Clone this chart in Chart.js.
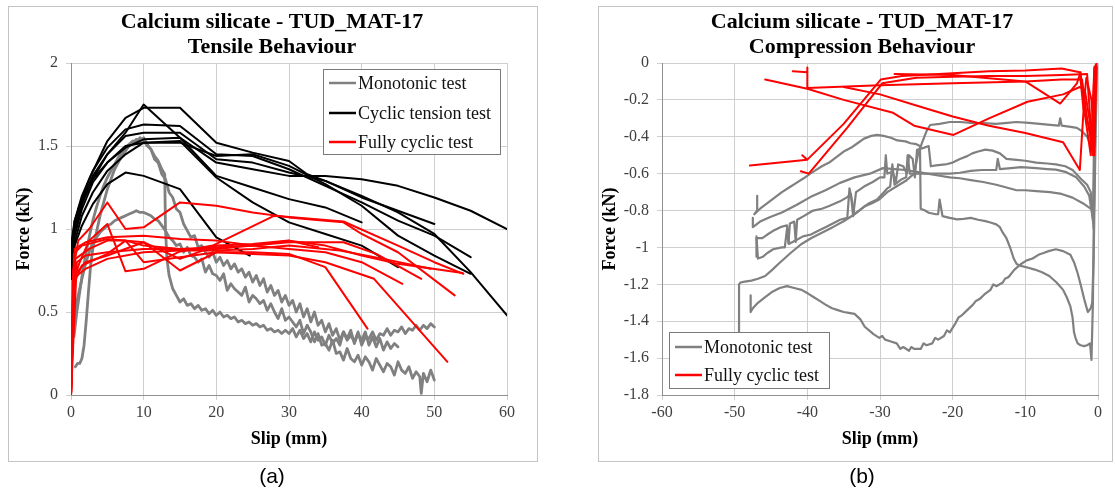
<!DOCTYPE html>
<html>
<head>
<meta charset="utf-8">
<script src="https://cdn.jsdelivr.net/npm/chart.js@4.4.1/dist/chart.umd.min.js"></script>
<style>
  html, body { margin: 0; padding: 0; background: #fff; width: 1115px; height: 489px; overflow: hidden; }
  #panelA { position: absolute; left: 0; top: 0; width: 560px; height: 489px; }
  #panelB { position: absolute; left: 560px; top: 0; width: 555px; height: 489px; }
</style>
</head>
<body>
<div id="panelA"><canvas id="tensile" width="560" height="489"></canvas></div>
<div id="panelB"><canvas id="compression" width="555" height="489"></canvas></div>
<script>
// ---------- axis ranges ----------
const tensileX = { min: 0, max: 60, step: 10 };
const tensileY = { min: 0, max: 2, step: 0.5 };
const compX = { min: -60, max: 0, step: 10 };
const compY = { min: -1.8, max: 0, step: 0.2 };

// ---------- (a) tensile behaviour: slip (mm), force (kN) ----------
const tensileMono1 = [[0.6,0.17],[0.9,0.19],[1.2,0.19],[1.5,0.22],[1.8,0.3],[2.1,0.45],[2.4,0.62],[2.7,0.78],[3,0.88],[3.5,0.98],[4,1.08],[4.5,1.16],[5,1.24],[5.5,1.3],[6,1.36],[6.5,1.4],[7,1.44],[7.5,1.47],[8,1.5],[8.5,1.52],[9,1.54],[9.5,1.53],[10,1.55],[10.5,1.51],[11,1.48],[11.5,1.44],[12,1.41],[12.5,1.36],[12.9,1.33],[13,1.0],[13.2,0.82],[13.5,0.72],[14,0.64],[14.5,0.6],[15,0.56],[15.5,0.58],[16,0.54],[16.5,0.55],[17,0.52],[17.5,0.54],[18,0.51],[18.5,0.52],[19,0.49],[19.5,0.51],[20,0.48],[20.5,0.5],[21,0.47],[21.5,0.48],[22,0.46],[22.5,0.47],[23,0.44],[23.5,0.45],[24,0.43],[24.5,0.44],[25,0.42],[25.5,0.43],[26,0.41],[26.5,0.42],[27,0.39],[27.5,0.4],[28,0.38],[28.5,0.39],[29,0.37],[29.5,0.39],[30,0.37],[30.5,0.4],[31,0.35],[31.5,0.39],[32,0.34],[32.5,0.37],[33,0.32],[33.5,0.38],[34,0.33],[34.5,0.35],[35,0.3],[35.5,0.36],[36,0.31],[36.5,0.34],[37,0.3],[37.5,0.38],[38,0.33],[38.5,0.36],[39,0.32],[39.5,0.38],[40,0.3],[40.5,0.35],[41,0.34],[41.5,0.38],[42,0.33],[42.5,0.37],[43,0.36],[43.5,0.4],[44,0.36],[44.5,0.39],[45,0.38],[45.5,0.41],[46,0.37],[46.5,0.4],[47,0.39],[47.5,0.42],[48,0.39],[48.5,0.42],[49,0.4],[49.5,0.43],[50,0.41]];
const tensileMono2 = [[0.3,0.42],[0.6,0.52],[1,0.6],[1.5,0.7],[2,0.79],[2.5,0.86],[3,0.92],[3.5,0.95],[4,0.98],[4.5,1.0],[5,1.02],[5.5,1.03],[6,1.05],[6.5,1.06],[7,1.07],[7.5,1.08],[8,1.09],[8.5,1.1],[9,1.11],[9.5,1.1],[10,1.1],[10.5,1.09],[11,1.08],[11.5,1.06],[12,1.05],[12.5,1.02],[13,0.99],[13.5,0.95],[14,0.93],[14.5,0.9],[15,0.91],[15.5,0.86],[16,0.89],[16.5,0.84],[17,0.83],[17.5,0.8],[18,0.82],[18.5,0.74],[19,0.78],[19.5,0.73],[20,0.72],[20.5,0.69],[21,0.73],[21.5,0.63],[22,0.67],[22.5,0.64],[23,0.62],[23.5,0.6],[24,0.65],[24.5,0.56],[25,0.6],[25.5,0.58],[26,0.55],[26.5,0.57],[27,0.51],[27.5,0.55],[28,0.5],[28.5,0.46],[29,0.52],[29.5,0.45],[30,0.47],[30.5,0.44],[31,0.41],[31.5,0.45],[32,0.37],[32.5,0.42],[33,0.38],[33.5,0.32],[34,0.37],[34.5,0.3],[35,0.31],[35.5,0.27],[36,0.33],[36.5,0.25],[37,0.26],[37.5,0.21],[38,0.28],[38.5,0.22],[39,0.2],[39.5,0.24],[40,0.18],[40.5,0.23],[41,0.2],[41.5,0.15],[42,0.22],[42.5,0.18],[43,0.14],[43.5,0.19],[44,0.17],[44.5,0.12],[45,0.2],[45.5,0.15],[46,0.13],[46.5,0.17],[47,0.1],[47.5,0.14],[48,0.11],[48.2,0.01],[48.5,0.13],[49,0.08],[49.5,0.15],[50,0.09]];
const tensileMono3 = [[0.4,0.35],[0.8,0.5],[1.2,0.62],[1.6,0.74],[2,0.84],[2.5,0.95],[3,1.05],[3.5,1.13],[4,1.2],[4.5,1.26],[5,1.31],[5.5,1.35],[6,1.39],[6.5,1.43],[7,1.46],[7.5,1.49],[8,1.51],[8.5,1.53],[9,1.52],[9.5,1.55],[10,1.53],[10.5,1.5],[11,1.48],[11.5,1.42],[12,1.4],[12.5,1.33],[13,1.3],[13.5,1.22],[14,1.19],[14.5,1.12],[15,1.1],[15.5,1.03],[16,0.99],[16.5,0.95],[17,0.96],[17.5,0.89],[18,0.9],[18.5,0.86],[19,0.83],[19.5,0.86],[20,0.8],[20.5,0.83],[21,0.78],[21.5,0.81],[22,0.76],[22.5,0.79],[23,0.74],[23.5,0.76],[24,0.71],[24.5,0.74],[25,0.68],[25.5,0.72],[26,0.66],[26.5,0.7],[27,0.62],[27.5,0.66],[28,0.6],[28.5,0.63],[29,0.56],[29.5,0.6],[30,0.54],[30.5,0.57],[31,0.5],[31.5,0.55],[32,0.47],[32.5,0.52],[33,0.44],[33.5,0.5],[34,0.42],[34.5,0.45],[35,0.38],[35.5,0.43],[36,0.36],[36.5,0.4],[37,0.33],[37.5,0.38],[38,0.34],[38.5,0.39],[39,0.31],[39.5,0.37],[40,0.33],[40.5,0.38],[41,0.3],[41.5,0.35],[42,0.29],[42.5,0.34],[43,0.27],[43.5,0.32],[44,0.28],[44.5,0.31],[45,0.29]];

const tensileCyclic1 = [[0,0.72],[0.4,0.95],[1,1.08],[2,1.22],[3,1.32],[5,1.45],[7.5,1.58],[10,1.75],[15,1.55],[20,1.32],[25,1.25],[30,1.18],[35,1.13],[40,1.04]];
const tensileCyclic2 = [[0,0.8],[0.5,1.0],[1,1.12],[2.5,1.3],[5,1.53],[7.5,1.67],[10,1.73],[15,1.73],[20,1.52],[25,1.46],[30,1.41],[32.5,1.33],[35,1.29],[40,1.19],[45,1.11],[50,1.03]];
const tensileCyclic3 = [[0,0.85],[0.5,1.05],[1.5,1.2],[3,1.35],[5,1.49],[7.5,1.6],[10,1.63],[15,1.62],[20,1.45],[25,1.44],[30,1.36],[35,1.26],[40,1.16],[45,1.05],[50,0.96],[55,0.83]];
const tensileCyclic4 = [[0,0.75],[0.5,0.98],[1.5,1.15],[3,1.3],[5,1.45],[7.5,1.56],[10,1.58],[15,1.58],[20,1.42],[25,1.4],[30,1.34],[35,1.29],[40,1.2],[45,1.1],[50,0.97],[55,0.74],[60,0.48]];
const tensileCyclic5 = [[0,0.9],[0.5,1.05],[1.5,1.18],[3,1.3],[5,1.4],[7.5,1.49],[10,1.54],[15,1.55],[20,1.4],[25,1.36],[30,1.32],[35,1.32],[40,1.3],[45,1.26],[50,1.19],[55,1.11],[60,1.0]];
const tensileCyclic6 = [[0,0.7],[0.5,0.92],[1.5,1.08],[3,1.22],[5,1.35],[7.5,1.45],[10,1.52],[15,1.53],[20,1.31],[25,1.16],[30,1.04],[35,0.97],[40,0.9],[45,0.77]];
const tensileCyclic7 = [[0,0.7],[0.5,0.9],[1.5,1.02],[3,1.15],[5,1.27],[7.5,1.34],[10,1.32],[15,1.24],[20,0.95],[24.6,0.84]];
const tensileCyclic8 = [[0,0.78],[0.5,0.96],[1.5,1.12],[3,1.28],[5,1.4],[7.5,1.5],[10,1.52],[15,1.52],[20,1.44],[25,1.45],[30,1.38],[35,1.27],[40,1.14],[45,0.96],[50,0.84],[55,0.73]];

const tensileFull1 = [[0,0],[0.3,0.75],[1,0.93],[2.5,1.0],[5,1.16],[7.5,1.0],[10,1.01],[15,1.16],[20,1.14],[25,1.1],[30,1.07],[35,1.05],[37.5,1.04],[40,0.97],[45,0.86],[52.8,0.6]];
const tensileFull2 = [[0,0],[0.4,0.7],[1.2,0.8],[2.5,0.93],[5,1.03],[7.5,0.745],[10,0.76],[15,0.865],[19.5,0.9],[28,1.08],[37.5,1.045],[45,0.9],[50,0.8],[54,0.73]];
const tensileFull3 = [[0,0],[0.5,0.88],[2,0.92],[5,0.95],[10,0.96],[15,0.94],[20,0.93],[25,0.9],[30,0.92],[37.5,0.92],[42,0.85],[48.2,0.7]];
const tensileFull4 = [[0,0],[0.6,0.82],[2.5,0.88],[5,0.93],[7.5,0.93],[10,0.9],[15,0.88],[20,0.88],[25,0.9],[30,0.93],[34,0.89]];
const tensileFull5 = [[0,0],[0.3,0.66],[1.5,0.78],[5,0.85],[7.5,0.93],[10,0.8],[15,0.83],[20,0.86],[25,0.86],[30,0.85],[35,0.77],[40.8,0.4]];
const tensileFull6 = [[0,0],[0.5,0.72],[2,0.8],[5,0.84],[10,0.92],[15,0.75],[20,0.86],[25,0.85],[30,0.84],[35,0.8],[41.7,0.7],[51.8,0.2]];
const tensileFull7 = [[0,0],[0.8,0.8],[2,0.84],[5,0.86],[10,0.88],[15,0.88],[20,0.89],[25,0.9],[30,0.88],[35,0.86],[40,0.8],[45.6,0.67]];
const tensileFull8 = [[0,0],[0.4,0.85],[1.5,0.9],[5,0.94],[10,0.92],[12.5,0.87],[15,0.82],[20,0.9],[25,0.91],[30,0.93],[35,0.9],[40,0.84],[45,0.79],[53.9,0.735]];
const tensileFull9 = [[0,0],[0.3,0.7],[2,0.76],[5,0.82],[10,0.86],[15,0.87],[20,0.87],[25,0.88],[30,0.9],[37,0.87],[43,0.82],[49.5,0.76]];

// ---------- (b) compression behaviour ----------
const compMono1 = [[-0.15,-0.02],[-0.4,-0.56],[-0.6,-1.06],[-0.8,-1.3],[-1.0,-1.33],[-1.4,-1.35],[-1.9,-1.28],[-2.4,-1.2],[-2.8,-1.14],[-3.3,-1.08],[-3.8,-1.04],[-4.8,-1.02],[-5.8,-1.01],[-6.8,-1.02],[-7.5,-1.03],[-8.2,-1.04],[-9,-1.06],[-9.8,-1.07],[-10.6,-1.09],[-11.5,-1.12],[-12.3,-1.16],[-12.8,-1.17],[-13.1,-1.19],[-14,-1.21],[-14.4,-1.2],[-14.8,-1.23],[-15.5,-1.25],[-16.3,-1.28],[-16.8,-1.29],[-17.2,-1.31],[-18,-1.34],[-18.8,-1.37],[-19.2,-1.38],[-19.6,-1.41],[-20.4,-1.46],[-20.8,-1.45],[-21.2,-1.48],[-22,-1.5],[-22.4,-1.49],[-22.8,-1.52],[-23.6,-1.53],[-24,-1.52],[-24.4,-1.55],[-25.3,-1.55],[-25.7,-1.54],[-26,-1.56],[-26.8,-1.54],[-27.2,-1.55],[-27.7,-1.52],[-28.5,-1.51],[-29.3,-1.5],[-29.7,-1.48],[-30.1,-1.49],[-30.9,-1.47],[-31.5,-1.45],[-32.1,-1.43],[-32.7,-1.39],[-33.5,-1.36],[-34.3,-1.355],[-35,-1.35],[-35.8,-1.34],[-36.6,-1.33],[-37.5,-1.31],[-38.3,-1.29],[-39.1,-1.27],[-39.9,-1.25],[-40.8,-1.23],[-41.8,-1.22],[-42.8,-1.21],[-43.8,-1.22],[-44.8,-1.24],[-45.8,-1.27],[-46.8,-1.3],[-47.5,-1.33],[-47.8,-1.35],[-47.8,-1.26]];
const compMono2 = [[-0.2,-0.02],[-0.5,-0.4],[-0.7,-0.47],[-1.5,-0.4],[-2.2,-0.37],[-2.9,-0.352],[-4,-0.345],[-5,-0.34],[-5.2,-0.3],[-5.4,-0.34],[-6.6,-0.335],[-8,-0.33],[-9.5,-0.325],[-11.2,-0.32],[-12.5,-0.325],[-14,-0.33],[-15.8,-0.326],[-17.5,-0.325],[-19,-0.32],[-20.4,-0.32],[-21.8,-0.33],[-23.1,-0.336],[-23.6,-0.37],[-24.2,-0.43],[-24.8,-0.5],[-25.3,-0.6],[-26.5,-0.64],[-27.7,-0.668],[-29,-0.7],[-30.1,-0.74],[-31.1,-0.76],[-32.1,-0.776],[-33.5,-0.82],[-35,-0.858],[-36.5,-0.89],[-38,-0.92],[-39.5,-0.95],[-40.9,-0.984],[-42.3,-1.03],[-43.8,-1.083],[-44.8,-1.12],[-45.8,-1.155],[-46.8,-1.17],[-47.7,-1.18],[-48.6,-1.185],[-49.2,-1.19],[-49.4,-1.2],[-49.4,-1.6]];
const compMono3 = [[-0.2,-0.02],[-0.5,-0.6],[-0.7,-1.3],[-0.9,-1.61],[-1.1,-1.52],[-1.5,-1.53],[-1.9,-1.535],[-2.4,-1.53],[-2.8,-1.52],[-3.1,-1.49],[-3.3,-1.46],[-3.5,-1.38],[-3.8,-1.32],[-4.3,-1.27],[-4.8,-1.23],[-5.7,-1.19],[-6.7,-1.155],[-7.7,-1.135],[-8.7,-1.12],[-9.6,-1.11],[-10.6,-1.1],[-11.2,-1.09],[-11.6,-1.06],[-12.1,-1.0],[-12.6,-0.95],[-13.1,-0.92],[-13.5,-0.89],[-14,-0.875],[-14.8,-0.865],[-15.5,-0.857],[-16.5,-0.85],[-17.5,-0.84],[-18.5,-0.845],[-19.4,-0.848],[-20.4,-0.84],[-21.4,-0.83],[-21.8,-0.74],[-22,-0.82],[-22.3,-0.82],[-23.3,-0.812],[-23.8,-0.8],[-24.4,-0.79],[-24.5,-0.45],[-25,-0.44],[-25.8,-0.435],[-26.5,-0.425],[-27.6,-0.42],[-28.5,-0.405],[-29.5,-0.395],[-30.4,-0.39],[-31.2,-0.395],[-32.2,-0.41],[-33.1,-0.435],[-34,-0.46],[-35,-0.48],[-36,-0.51],[-37,-0.54],[-38,-0.56],[-39,-0.585],[-39.6,-0.6],[-40.5,-0.625],[-41.5,-0.65],[-42.5,-0.675],[-43.5,-0.7],[-44.5,-0.73],[-45.5,-0.76],[-46.5,-0.79],[-47.3,-0.82],[-46.9,-0.8],[-46.9,-0.72]];
const compMono4 = [[-0.3,-0.02],[-0.6,-0.78],[-1,-0.79],[-2.1,-0.76],[-3.5,-0.73],[-5,-0.71],[-6.6,-0.7],[-8.5,-0.695],[-10,-0.69],[-11.2,-0.69],[-12.6,-0.675],[-14,-0.66],[-15.8,-0.645],[-17.5,-0.635],[-19,-0.625],[-20.4,-0.62],[-22,-0.61],[-23.5,-0.6],[-24.9,-0.59],[-26.5,-0.58],[-28,-0.575],[-29.6,-0.57],[-31.4,-0.6],[-33.5,-0.62],[-35.5,-0.65],[-37.5,-0.69],[-39.6,-0.727],[-41.5,-0.77],[-43.5,-0.81],[-45.1,-0.835],[-46.5,-0.86],[-47.5,-0.89],[-47.5,-0.84]];
const compMono5 = [[-0.3,-0.02],[-0.6,-0.9],[-1,-0.7],[-1.5,-0.66],[-2.3,-0.63],[-3.5,-0.58],[-4.5,-0.56],[-5.8,-0.55],[-7,-0.545],[-8.5,-0.54],[-10,-0.53],[-11.2,-0.525],[-12.6,-0.52],[-13.5,-0.49],[-14.5,-0.475],[-15.5,-0.47],[-16.5,-0.48],[-17.3,-0.49],[-18,-0.505],[-19,-0.52],[-20,-0.54],[-21,-0.55],[-22.3,-0.555],[-23,-0.56],[-23.3,-0.45],[-24,-0.46],[-24.9,-0.47],[-25.2,-0.62],[-25.5,-0.52],[-26,-0.5],[-26.3,-0.6],[-26.8,-0.56],[-27.5,-0.55],[-27.8,-0.64],[-28.3,-0.59],[-29,-0.6],[-29.2,-0.5],[-29.4,-0.62],[-30,-0.62],[-31,-0.645],[-32.2,-0.67],[-33.3,-0.7],[-33.7,-0.83],[-34,-0.71],[-34.5,-0.727],[-35.5,-0.75],[-37,-0.775],[-38,-0.79],[-39.2,-0.8],[-40.5,-0.83],[-41.4,-0.85],[-41.6,-0.97],[-41.8,-0.86],[-42.4,-0.87],[-42.6,-0.98],[-42.8,-0.88],[-43.7,-0.89],[-44.7,-0.91],[-45.5,-0.93],[-46.2,-0.95],[-47,-0.95],[-47,-1.05]];
const compMono6 = [[-0.4,-0.02],[-0.7,-0.85],[-1.2,-0.72],[-1.9,-0.67],[-3,-0.62],[-4.5,-0.59],[-5.8,-0.578],[-7,-0.575],[-8.5,-0.57],[-10.6,-0.565],[-12,-0.57],[-13.5,-0.575],[-13.8,-0.52],[-14,-0.58],[-15,-0.58],[-16,-0.58],[-17.5,-0.585],[-19,-0.595],[-20.4,-0.6],[-22,-0.6],[-23.5,-0.6],[-24.5,-0.6],[-25.9,-0.6],[-26.2,-0.5],[-26.4,-0.62],[-27,-0.63],[-28,-0.66],[-28.3,-0.55],[-28.6,-0.67],[-29,-0.68],[-30.4,-0.74],[-31.5,-0.76],[-32.5,-0.79],[-33.5,-0.82],[-34.2,-0.68],[-34.5,-0.84],[-35.5,-0.85],[-36.5,-0.87],[-37.5,-0.89],[-38.5,-0.91],[-39.5,-0.93],[-40.6,-0.94],[-41.5,-0.96],[-42.5,-0.98],[-42.8,-0.9],[-43.1,-1.0],[-43.5,-1.0],[-44.7,-1.01],[-45.5,-1.03],[-46.1,-1.05],[-46.8,-1.06],[-47,-0.94]];

const compFull1 = [[-47.9,-0.556],[-40,-0.524],[-40.7,-0.5],[-40,-0.524],[-35,-0.33],[-29.9,-0.09],[-27,-0.07],[-20,-0.055],[-15,-0.045],[-10,-0.04],[-5,-0.03],[-2.5,-0.05],[-2,-0.25],[-1.2,-0.35],[-0.7,-0.5],[-0.4,-0.02]];
const compFull2 = [[-40.9,-0.587],[-39.8,-0.6],[-34.5,-0.35],[-29.7,-0.11],[-25,-0.08],[-20,-0.075],[-15,-0.07],[-10,-0.07],[-5,-0.065],[-1.5,-0.06],[-0.8,-0.45],[-0.5,-0.03]];
const compFull3 = [[-42,-0.045],[-40,-0.05],[-40,-0.025],[-40,-0.135],[-30,-0.12],[-20,-0.11],[-10,-0.1],[-5,-0.09],[-2.2,-0.09],[-1.5,-0.3],[-0.6,-0.5],[-0.3,-0.01]];
const compFull4 = [[-45.8,-0.09],[-40,-0.14],[-35,-0.2],[-28.2,-0.27],[-25.3,-0.34],[-19.9,-0.39],[-15,-0.3],[-9.7,-0.21],[-4.8,-0.17],[-2.5,-0.13],[-1.8,-0.15],[-1,-0.35],[-0.5,-0.5],[-0.2,0]];
const compFull5 = [[-35,-0.13],[-30,-0.17],[-25,-0.23],[-20,-0.29],[-15,-0.34],[-10,-0.38],[-4.8,-0.43],[-2.5,-0.58],[-1.9,-0.2],[-1.6,-0.08],[-0.9,-0.2],[-0.5,-0.45],[-0.3,-0.01]];
const compFull6 = [[-28,-0.06],[-20,-0.065],[-10,-0.1],[-5.2,-0.22],[-2.9,-0.11],[-2.4,-0.05],[-1.8,-0.28],[-1,-0.5],[-0.5,-0.02]];

// ---------- styling ----------
const GREY = '#808080', BLACK = '#000000', RED = '#ff0000';
const serif = '"Liberation Serif", "Times New Roman", serif';

function series(points, color, width, order) {
  return {
    data: points.map(([x, y]) => ({ x, y })),
    showLine: true, fill: false,
    borderColor: color, backgroundColor: color,
    borderWidth: width, pointRadius: 0, order
  };
}

// frame, titles, caption and in-plot legend
const decor = {
  id: 'decor',
  beforeDraw(chart, args, o) {
    const ctx = chart.ctx;
    ctx.save();
    ctx.fillStyle = '#fff';
    ctx.fillRect(0, 0, chart.width, chart.height);
    ctx.strokeStyle = '#c4c4c4';
    ctx.lineWidth = 1;
    ctx.strokeRect(o.frame[0] + 0.5, o.frame[1] + 0.5, o.frame[2], o.frame[3]);
    ctx.fillStyle = '#000';
    ctx.textAlign = 'center';
    ctx.textBaseline = 'alphabetic';
    ctx.font = 'bold 22px ' + serif;
    o.title.forEach((t, i) => ctx.fillText(t, o.titleX, o.titleY[i]));
    ctx.font = '21px "Liberation Sans", Arial, sans-serif';
    ctx.fillText(o.caption, o.titleX, o.captionY);
    ctx.restore();
  },
  afterDatasetsDraw(chart, args, o) {
    const ctx = chart.ctx, L = o.legend;
    ctx.save();
    ctx.fillStyle = '#fff';
    ctx.fillRect(L.box[0], L.box[1], L.box[2], L.box[3]);
    ctx.strokeStyle = '#7a7a7a';
    ctx.lineWidth = 1;
    ctx.strokeRect(L.box[0], L.box[1], L.box[2], L.box[3]);
    ctx.font = '18px ' + serif;
    ctx.textAlign = 'left';
    ctx.textBaseline = 'middle';
    L.items.forEach(it => {
      ctx.strokeStyle = it.color;
      ctx.lineWidth = 2.5;
      ctx.beginPath();
      ctx.moveTo(L.lineX[0], it.y);
      ctx.lineTo(L.lineX[1], it.y);
      ctx.stroke();
      ctx.fillStyle = '#111';
      ctx.fillText(it.label, L.textX, it.y + 1);
    });
    ctx.restore();
  }
};

const tickFmt = v => String(Math.round(v * 10) / 10);

function axis(range, fit, title, titlePad, tickPad) {
  return {
    type: 'linear', min: range.min, max: range.max,
    ticks: { stepSize: range.step, callback: tickFmt, color: '#404040', padding: tickPad,
             font: { family: serif, size: 16 }, maxRotation: 0, autoSkip: false },
    grid: { color: '#cfcfcf', lineWidth: 1, tickLength: 5, drawTicks: true },
    border: { display: true, color: '#8f8f8f', width: 1 },
    title: { display: true, text: title, color: '#000', padding: titlePad,
             font: { family: serif, size: 18, weight: 'bold' } },
    afterFit: fit
  };
}

function build(id, cfg) {
  return new Chart(document.getElementById(id), {
    type: 'scatter',
    data: { datasets: cfg.datasets },
    options: {
      responsive: false, animation: false, events: [],
      layout: { padding: cfg.padding },
      elements: { line: { tension: 0, borderJoinStyle: 'round', borderCapStyle: 'round' }, point: { radius: 0 } },
      plugins: { legend: { display: false }, tooltip: { enabled: false }, title: { display: false }, decor: cfg.decor },
      scales: {
        x: axis(cfg.xRange, s => { s.height = cfg.xAxisHeight; s.paddingLeft = 0; s.paddingRight = 0; },
                'Slip (mm)', { top: 0, bottom: cfg.xTitlePad }, 3),
        y: axis(cfg.yRange, s => { s.width = cfg.yAxisWidth; s.paddingTop = 0; s.paddingBottom = 0; },
                'Force (kN)', { top: cfg.yTitlePad, bottom: 0 }, 8)
      }
    },
    plugins: [decor]
  });
}

build('tensile', {
  xRange: tensileX, yRange: tensileY,
  padding: { left: 0, top: 63, right: 53, bottom: 0 },
  xAxisHeight: 94, yAxisWidth: 71, xTitlePad: 39, yTitlePad: 14,
  datasets: [
    series(tensileMono1, GREY, 2.8, 2), series(tensileMono2, GREY, 2.8, 2), series(tensileMono3, GREY, 2.8, 2),
    series(tensileCyclic1, BLACK, 2, 1), series(tensileCyclic2, BLACK, 2, 1), series(tensileCyclic3, BLACK, 2, 1),
    series(tensileCyclic4, BLACK, 2, 1), series(tensileCyclic5, BLACK, 2, 1), series(tensileCyclic6, BLACK, 2, 1),
    series(tensileCyclic7, BLACK, 2, 1), series(tensileCyclic8, BLACK, 2, 1),
    series(tensileFull1, RED, 2, 0), series(tensileFull2, RED, 2, 0), series(tensileFull3, RED, 2, 0),
    series(tensileFull4, RED, 2, 0), series(tensileFull5, RED, 2, 0), series(tensileFull6, RED, 2, 0),
    series(tensileFull7, RED, 2, 0), series(tensileFull8, RED, 2, 0), series(tensileFull9, RED, 2, 0)
  ],
  decor: {
    frame: [8, 6, 529, 455],
    title: ['Calcium silicate - TUD_MAT-17', 'Tensile Behaviour'],
    titleX: 272, titleY: [28, 53], caption: '(a)', captionY: 483,
    legend: {
      box: [323.5, 69.5, 177, 85],
      lineX: [329, 356], textX: 358,
      items: [
        { label: 'Monotonic test', color: GREY, y: 83 },
        { label: 'Cyclic tension test', color: BLACK, y: 113 },
        { label: 'Fully cyclic test', color: RED, y: 142 }
      ]
    }
  }
});

build('compression', {
  xRange: compX, yRange: compY,
  padding: { left: 0, top: 63, right: 17, bottom: 0 },
  xAxisHeight: 94, yAxisWidth: 102, xTitlePad: 39, yTitlePad: 40,
  datasets: [
    series(compMono1, GREY, 2.2, 2), series(compMono2, GREY, 2.2, 2), series(compMono3, GREY, 2.2, 2),
    series(compMono4, GREY, 2.2, 2), series(compMono5, GREY, 2.2, 2), series(compMono6, GREY, 2.2, 2),
    series(compFull1, RED, 2, 0), series(compFull2, RED, 2, 0), series(compFull3, RED, 2, 0),
    series(compFull4, RED, 2, 0), series(compFull5, RED, 2, 0), series(compFull6, RED, 2, 0)
  ],
  decor: {
    frame: [38, 6, 514, 455],
    title: ['Calcium silicate - TUD_MAT-17', 'Compression Behaviour'],
    titleX: 302, titleY: [28, 53], caption: '(b)', captionY: 483,
    legend: {
      box: [109.5, 332.5, 160, 56],
      lineX: [115, 142], textX: 144,
      items: [
        { label: 'Monotonic test', color: GREY, y: 347 },
        { label: 'Fully cyclic test', color: RED, y: 375 }
      ]
    }
  }
});
</script>
</body>
</html>
